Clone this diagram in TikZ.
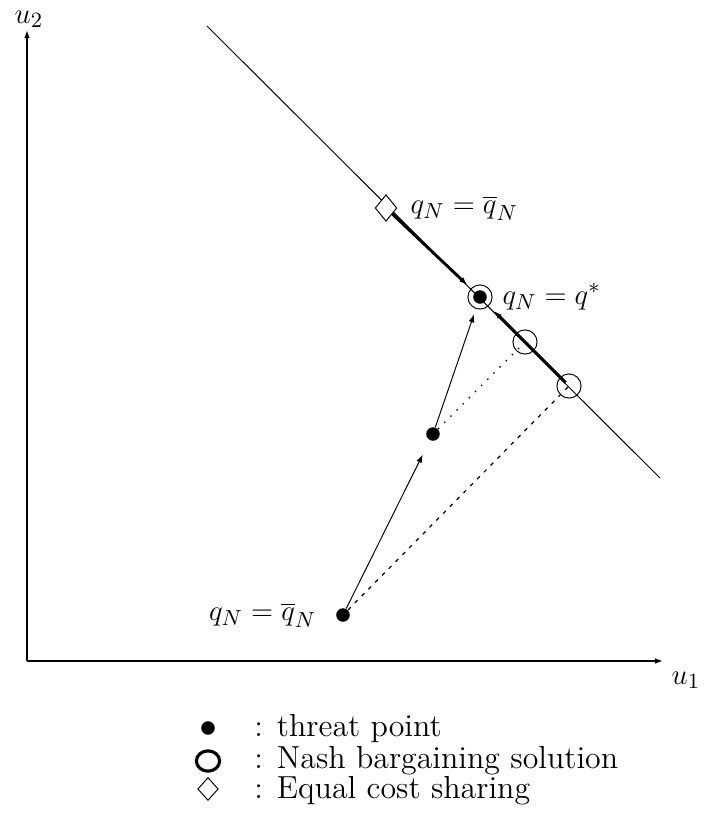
\documentclass[tikz,border=0pt]{standalone}
\usetikzlibrary{arrows.meta,positioning,shapes.geometric}

\begin{document}
\begin{tikzpicture}[x=0.414pt,y=-0.414pt,>={Latex[length=3.4pt,width=2.4pt]},
font=\fontsize{13.2}{16}\selectfont,
thr/.style={circle,fill=black,inner sep=0pt,minimum size=5.6pt},
nbs/.style={circle,draw,line width=0.4pt,inner sep=0pt,minimum size=10pt},
ecs/.style={diamond,draw,line width=0.4pt,fill=white,inner sep=0pt,minimum width=9pt,minimum height=11pt},
axis/.style={line width=0.6pt,->},
path/.style={line width=1.2pt,->}]
\useasboundingbox (0,0) rectangle (703,821);
% axes
\coordinate (o) at (27,661);
\coordinate (ytop) at (27,30);
\coordinate (xend) at (663,661);
\draw[axis] (o) -- (ytop);
\draw[axis] (o) -- (xend);
\node (u2) at (29,19) {$u_2$};
\node (u1) at (686,680) {$u_1$};
% frontier
\coordinate (fa) at (207,26);
\coordinate (fb) at (660,478);
\draw[line width=0.4pt] (fa) -- (fb);
% points
\node[thr] (t1) at (343,615) {};
\node[thr] (t2) at (433,434) {};
\node[thr] (t3) at (480,297) {};
\node[nbs] (n1) at (480,297) {};
\node[nbs] (n2) at (525,342) {};
\node[nbs] (n3) at (569,386) {};
\node[ecs] (d) at (386,208) {};
\node[right=2pt of d] (ld) {$q_N=\overline{q}_N$};
\node[right=0.6pt of n1] (ln) {$q_N=q^*$};
\node[left=4.5pt of t1] (lt) {$q_N=\overline{q}_N$};
% moves
\draw[path,shorten >=2pt] (d) -- (n1);
\draw[path,shorten <=2pt,shorten >=3pt] (n3.center) -- (n1);
\draw[line width=0.4pt,->,shorten >=6.5pt] (t1) -- (t2);
\draw[line width=0.4pt,->,shorten >=4.5pt] (t2) -- (t3);
\draw[line width=0.5pt,dash pattern=on 0.6pt off 3pt] (t2) -- (n2.center);
\draw[line width=0.5pt,dash pattern=on 1.6pt off 2.4pt] (t1) -- (n3.center);
% legend
\node[thr] (k1) at (208,728) {};
\node[ellipse,draw,line width=1.3pt,inner sep=0pt,minimum width=9.6pt,minimum height=8.4pt] (k2) at (208,761) {};
\node[diamond,draw,line width=0.4pt,inner sep=0pt,minimum width=8.5pt,minimum height=9.5pt] (k3) at (208,789) {};
\node[anchor=base west,inner sep=0pt] (e1) at (254,736) {: threat point};
\node[anchor=base west,inner sep=0pt] (e2) at (254,768) {: Nash bargaining solution};
\node[anchor=base west,inner sep=0pt] (e3) at (254,798) {: Equal cost sharing};
\end{tikzpicture}
\end{document}
